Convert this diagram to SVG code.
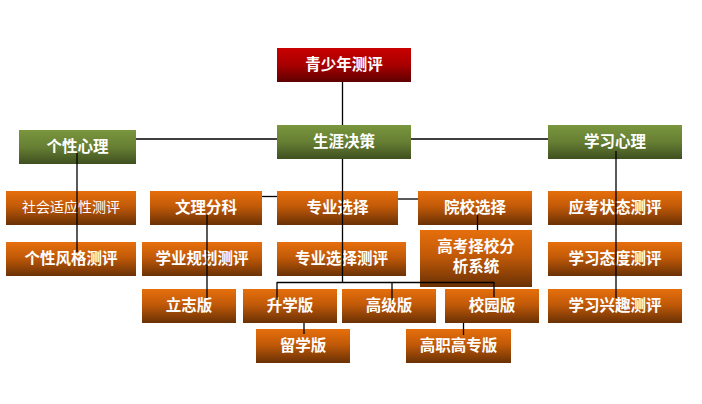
<svg xmlns="http://www.w3.org/2000/svg" width="702" height="404" viewBox="0 0 702 404">
<defs>
<linearGradient id="gO" x1="0" y1="0" x2="0" y2="1">
<stop offset="0" stop-color="#e66f0c"/>
<stop offset="0.45" stop-color="#c25a08"/>
<stop offset="1" stop-color="#6a3105"/>
</linearGradient>
<linearGradient id="gG" x1="0" y1="0" x2="0" y2="1">
<stop offset="0" stop-color="#7a963e"/>
<stop offset="0.5" stop-color="#667f33"/>
<stop offset="1" stop-color="#3f5020"/>
</linearGradient>
<linearGradient id="gR" x1="0" y1="0" x2="0" y2="1">
<stop offset="0" stop-color="#c80000"/>
<stop offset="0.5" stop-color="#a80000"/>
<stop offset="1" stop-color="#5e0000"/>
</linearGradient>
<style>
.o{fill:url(#gO)}
.g{fill:url(#gG)}
.r{fill:url(#gR)}
text{font-family:"Noto Sans CJK SC","Noto Sans CJK JP",sans-serif;fill:#ffffff;font-size:15.5px;font-weight:bold;text-anchor:middle;dominant-baseline:central}
text.s{font-size:14px;font-weight:normal}
.c line{stroke:#000;stroke-width:1.3;fill:none}
</style>
</defs>
<rect width="702" height="404" fill="#ffffff"/>

<g id="n-root"><rect class="r" x="277" y="48" width="134" height="34"/><text x="344" y="62.5">青少年测评</text></g>
<g id="n-career"><rect class="g" x="277" y="125" width="134" height="34"/><text x="344" y="139.5">生涯决策</text></g>
<g id="n-personality"><rect class="g" x="19" y="130" width="117" height="34"/><text x="77.5" y="144.5">个性心理</text></g>
<g id="n-learning"><rect class="g" x="548" y="125" width="134" height="34"/><text x="615" y="139.5">学习心理</text></g>

<g id="n-social"><rect class="o" x="6" y="191" width="130" height="34"/><text class="s" x="71" y="206">社会适应性测评</text></g>
<g id="n-style"><rect class="o" x="6" y="242" width="130" height="34"/><text x="71" y="256.5">个性风格测评</text></g>

<g id="n-wenli"><rect class="o" x="150" y="191" width="112" height="34"/><text x="206" y="205.5">文理分科</text></g>
<g id="n-plan"><rect class="o" x="142" y="242" width="120" height="34"/><text x="202" y="256.5">学业规划测评</text></g>
<g id="n-lizhi"><rect class="o" x="142" y="289" width="94" height="34"/><text x="189" y="303.5">立志版</text></g>

<g id="n-major"><rect class="o" x="277" y="191" width="121" height="34"/><text x="337.5" y="205.5">专业选择</text></g>
<g id="n-majortest"><rect class="o" x="277" y="242" width="129" height="34"/><text x="341.5" y="256.5">专业选择测评</text></g>
<g id="n-shengxue"><rect class="o" x="243" y="289" width="94" height="34"/><text x="290" y="303.5">升学版</text></g>
<g id="n-gaoji"><rect class="o" x="342" y="289" width="94" height="34"/><text x="389" y="303.5">高级版</text></g>
<g id="n-xiaoyuan"><rect class="o" x="445" y="289" width="94" height="34"/><text x="492" y="303.5">校园版</text></g>
<g id="n-liuxue"><rect class="o" x="256" y="329" width="94" height="34"/><text x="303" y="343.5">留学版</text></g>
<g id="n-gaozhi"><rect class="o" x="406" y="329" width="105" height="34"/><text x="458.5" y="343.5">高职高专版</text></g>

<g id="n-college"><rect class="o" x="418" y="191" width="114" height="34"/><text x="475" y="205.5">院校选择</text></g>
<g id="n-system"><rect class="o" x="420" y="230" width="112" height="57"/><text x="476" y="244.5">高考择校分</text><text x="476" y="265">析系统</text></g>

<g id="n-exam"><rect class="o" x="548" y="191" width="134" height="34"/><text x="615" y="205.5">应考状态测评</text></g>
<g id="n-attitude"><rect class="o" x="548" y="242" width="134" height="34"/><text x="615" y="256.5">学习态度测评</text></g>
<g id="n-interest"><rect class="o" x="548" y="289" width="134" height="34"/><text x="615" y="303.5">学习兴趣测评</text></g>

<g id="connectors" class="c">
<line x1="342.5" y1="82" x2="342.5" y2="125"/>
<line x1="136" y1="139" x2="277" y2="139"/>
<line x1="411" y1="139" x2="548" y2="139"/>
<line x1="342.5" y1="159" x2="342.5" y2="282.5"/>
<line x1="277" y1="282.5" x2="494" y2="282.5"/>
<line x1="277" y1="282" x2="277" y2="300"/>
<line x1="392" y1="282" x2="392" y2="300"/>
<line x1="494" y1="282" x2="494" y2="297"/>
<line x1="304" y1="323" x2="304" y2="334"/>
<line x1="463.5" y1="323" x2="463.5" y2="335"/>
<line x1="477.5" y1="215" x2="477.5" y2="230"/>
<line x1="398" y1="199" x2="418" y2="199"/>
<line x1="262" y1="196.5" x2="277" y2="196.5"/>
<line x1="207" y1="215" x2="207" y2="298"/>
<line x1="77" y1="153" x2="77" y2="252"/>
<line x1="616" y1="151" x2="616" y2="298"/>
</g>
</svg>
